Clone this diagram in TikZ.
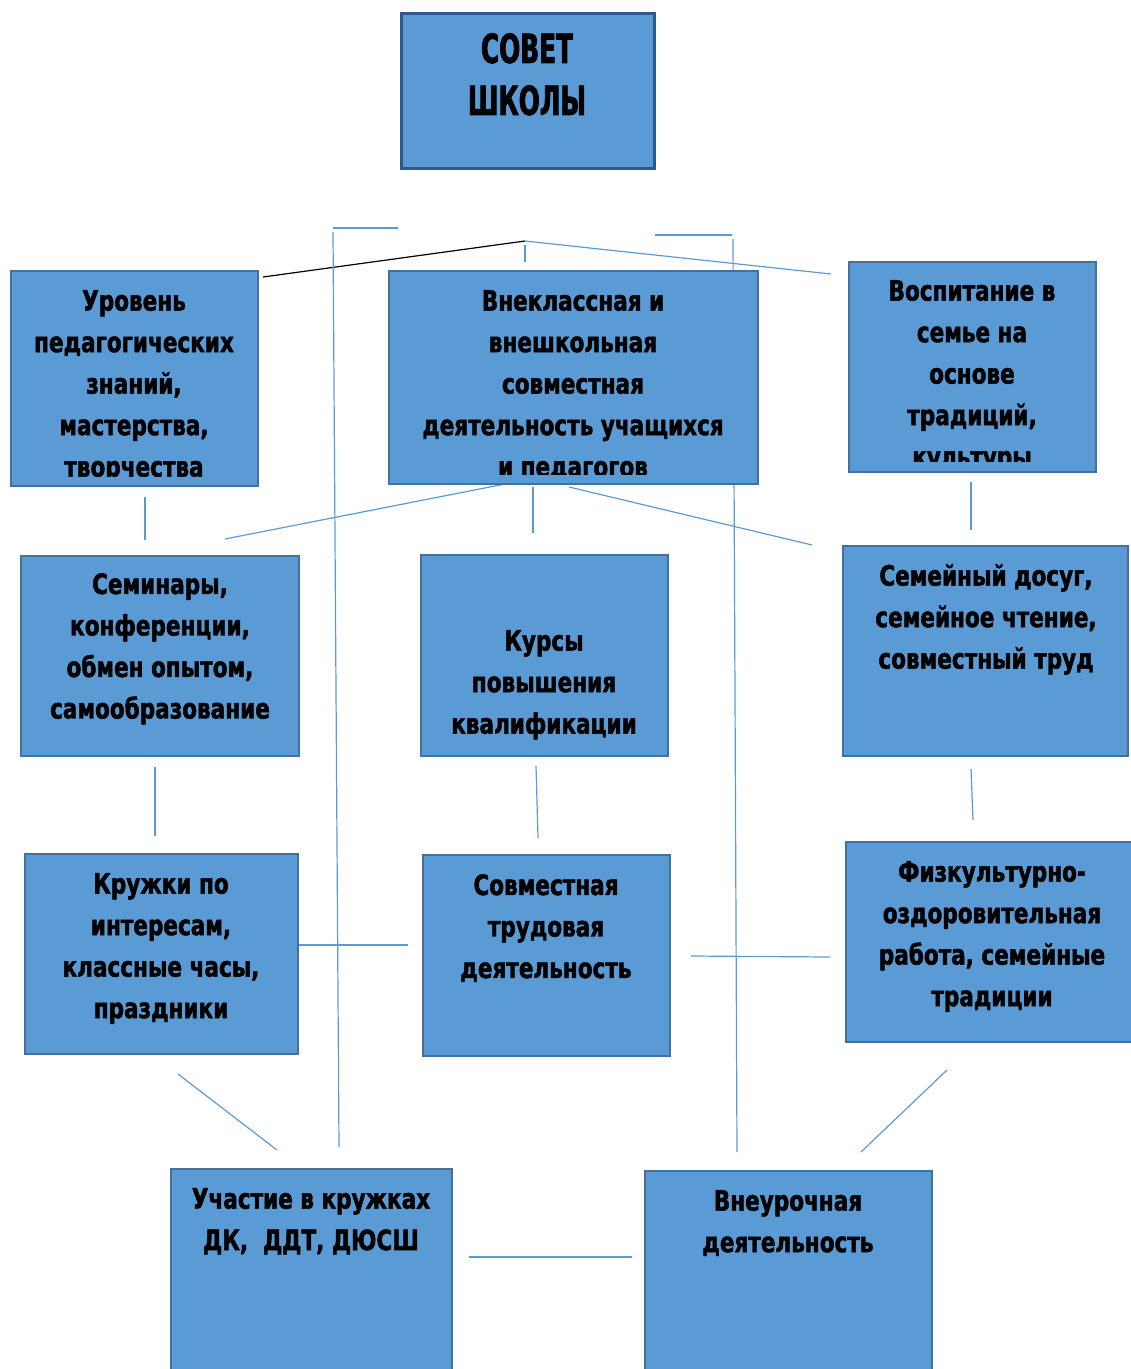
\documentclass[tikz,border=0pt]{standalone}
\usepackage{fontspec}
\usepackage{xcolor}
\usepackage{tikz}
\newfontfamily\boxfont{DejaVu Sans}[FakeStretch=0.77,FakeBold=1.6]
\newfontfamily\titlefont{DejaVu Sans}[FakeStretch=0.62,FakeBold=1.8]
\definecolor{boxfill}{HTML}{5B9BD5}
\definecolor{boxline}{HTML}{41719C}
\definecolor{titleline}{HTML}{2F5A88}
\definecolor{linkblue}{HTML}{5B9BD5}

\begin{document}
\begin{tikzpicture}[x=1pt,y=-1pt,
  blockbox/.style={draw=boxline, fill=boxfill, line width=2.5pt, inner sep=0pt},
  blocktext/.style={font=\boxfont\bfseries\fontsize{28}{41.5}\selectfont, align=center, inner sep=0pt, anchor=north},
  link/.style={draw=linkblue, line width=1.2pt}]
\useasboundingbox (0,0) rectangle (1131,1369);

% Connectors (drawn first, boxes lie over them)
\coordinate (jn) at (525,241);
\coordinate (jnlvl) at (263,277);
\coordinate (jnfam) at (831,274);
\coordinate (jnstubtop) at (525,245);
\coordinate (jnstubbot) at (525,262);
\draw[black, line width=1.2pt] (jnlvl) -- (jn);
\draw[link] (jn) -- (jnfam);
\draw[link] (jnstubtop) -- (jnstubbot);

\coordinate (lhookl) at (333,228);
\coordinate (lhookr) at (398,228);
\coordinate (lvtop) at (333,232);
\coordinate (lvbot) at (339,1147);
\draw[link] (lhookl) -- (lhookr);
\draw[link] (lvtop) -- (lvbot);

\coordinate (rhookl) at (655,235);
\coordinate (rhookr) at (732,235);
\coordinate (rvtop) at (733,239);
\coordinate (rvbot) at (737,1152);
\draw[link] (rhookl) -- (rhookr);
\draw[link] (rvtop) -- (rvbot);

\coordinate (c1a) at (145,497); \coordinate (c1b) at (145,540);
\coordinate (c2a) at (225,539); \coordinate (c2b) at (505,484);
\coordinate (c3a) at (533,487); \coordinate (c3b) at (533,533);
\coordinate (c4a) at (569,487); \coordinate (c4b) at (812,545);
\coordinate (c5a) at (971,482); \coordinate (c5b) at (971,530);
\coordinate (c6a) at (155,767); \coordinate (c6b) at (155,836);
\coordinate (c7a) at (536,766); \coordinate (c7b) at (538,838);
\coordinate (c8a) at (971,769); \coordinate (c8b) at (973,820);
\coordinate (c9a) at (299,945); \coordinate (c9b) at (408,945);
\coordinate (c10a) at (691,956); \coordinate (c10b) at (830,957);
\coordinate (c11a) at (178,1074); \coordinate (c11b) at (277,1150);
\coordinate (c12a) at (947,1070); \coordinate (c12b) at (861,1152);
\coordinate (c13a) at (469,1257); \coordinate (c13b) at (632,1257);
\draw[link] (c1a) -- (c1b);
\draw[link] (c2a) -- (c2b);
\draw[link] (c3a) -- (c3b);
\draw[link] (c4a) -- (c4b);
\draw[link] (c5a) -- (c5b);
\draw[link] (c6a) -- (c6b);
\draw[link] (c7a) -- (c7b);
\draw[link] (c8a) -- (c8b);
\draw[link] (c9a) -- (c9b);
\draw[link] (c10a) -- (c10b);
\draw[link] (c11a) -- (c11b);
\draw[link] (c12a) -- (c12b);
\draw[link] (c13a) -- (c13b);

% Title box
\node[blockbox, draw=titleline, line width=3pt, minimum width=253, minimum height=155] (council) at (527.5,90.5) {};
\node[font=\titlefont\bfseries\fontsize{40}{52}\selectfont, align=center, inner sep=0pt, anchor=north] (counciltext) at (527,33) {СОВЕТ\\ШКОЛЫ};

% First row (text runs past the bottom and is cut)
\node[blockbox, minimum width=247, minimum height=215] (level) at (134.5,378.5) {};
\begin{scope}
\clip ([yshift=11pt]level.south west) rectangle (level.north east);
\node[blocktext] (leveltext) at (134,290) {Уровень\\педагогических\\знаний,\\мастерства,\\творчества};
\end{scope}

\node[blockbox, minimum width=369, minimum height=213] (joint) at (573.5,377.5) {};
\begin{scope}
\clip ([yshift=11pt]joint.south west) rectangle (joint.north east);
\node[blocktext] (jointtext) at (573,290) {Внеклассная и\\внешкольная\\совместная\\деятельность учащихся\\и педагогов};
\end{scope}

\node[blockbox, minimum width=247, minimum height=210] (family) at (972.5,367) {};
\begin{scope}
\clip ([yshift=12pt]family.south west) rectangle (family.north east);
\node[blocktext] (familytext) at (972,280) {Воспитание в\\семье на\\основе\\традиций,\\культуры};
\end{scope}

% Second row
\node[blockbox, minimum width=278, minimum height=200] (seminar) at (160,656) {};
\node[blocktext] (seminartext) at (160,573) {Семинары,\\конференции,\\обмен опытом,\\самообразование};

\node[blockbox, minimum width=247, minimum height=201] (courses) at (544.5,655.5) {};
\node[blocktext] (coursestext) at (544,630) {Курсы\\повышения\\квалификации};

\node[blockbox, minimum width=285, minimum height=210] (leisure) at (985.5,651) {};
\node[blocktext] (leisuretext) at (986,564) {Семейный досуг,\\семейное чтение,\\совместный труд};

% Third row
\node[blockbox, minimum width=273, minimum height=200] (clubs) at (161.5,954) {};
\node[blocktext] (clubstext) at (161,873) {Кружки по\\интересам,\\классные часы,\\праздники};

\node[blockbox, minimum width=247, minimum height=201] (labour) at (546.5,955.5) {};
\node[blocktext] (labourtext) at (546,874) {Совместная\\трудовая\\деятельность};

\node[blockbox, minimum width=292, minimum height=200] (sport) at (992,942) {};
\node[blocktext] (sporttext) at (992,861) {Физкультурно-\\оздоровительная\\работа, семейные\\традиции};

% Bottom row (boxes run past the bottom edge)
\node[blockbox, minimum width=281, minimum height=230] (houses) at (311.5,1284) {};
\node[blocktext] (housestext) at (311,1188) {Участие в кружках\\ДК,\ \ ДДТ, ДЮСШ};

\node[blockbox, minimum width=287, minimum height=230] (extra) at (788.5,1286) {};
\node[blocktext] (extratext) at (788,1190) {Внеурочная\\деятельность};
\end{tikzpicture}
\end{document}
